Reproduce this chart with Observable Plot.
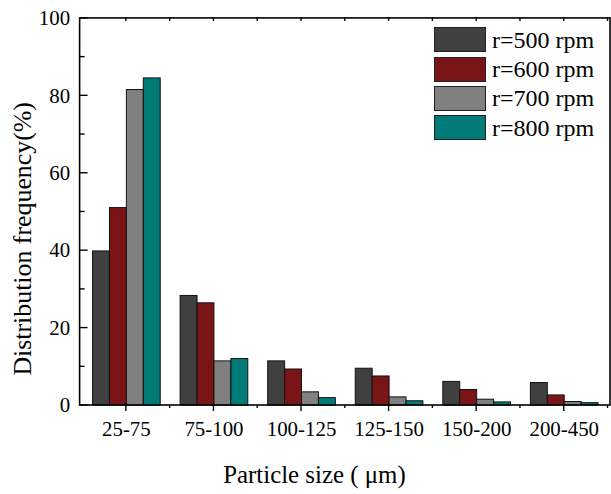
<!DOCTYPE html>
<html><head><meta charset="utf-8">
<script src="https://cdn.jsdelivr.net/npm/d3@7"></script>
<script src="https://cdn.jsdelivr.net/npm/@observablehq/plot@0.6"></script>
<style>
body{margin:0;background:#fff;overflow:hidden}
#wrap{position:relative;width:611px;height:494px;overflow:hidden;font-family:"Liberation Serif","Times New Roman",Times,serif;background:#fff}
#legend{position:absolute;left:434px;top:25px}
.row{display:flex;align-items:center;height:29.4px}
.sw{width:50px;height:23px;border:1px solid #222;box-sizing:content-box}
.lab{font-size:24px;margin-left:6px;line-height:1;color:#000}
#chart{position:absolute;left:0;top:0}
svg text{font-family:"Liberation Serif","Times New Roman",Times,serif}
</style></head><body><div id="wrap"><div id="chart"></div><div id="legend"></div></div>
<script>
const categories = ["25-75","75-100","100-125","125-150","150-200","200-450"];
const seriesNames = ["r=500 rpm","r=600 rpm","r=700 rpm","r=800 rpm"];
const colors = ["#404040","#7a1517","#808080","#007b77"];
const r500 = [39.8,28.3,11.4,9.5,6.1,5.8];
const r600 = [51.0,26.4,9.3,7.5,4.0,2.6];
const r700 = [81.5,11.4,3.4,2.1,1.5,0.9];
const r800 = [84.5,12.0,1.9,1.1,0.8,0.6];
const yTicks = [0,20,40,60,80,100];
const yMinor = [10,30,50,70,90];
const xTitle = "Particle size ( \u03bcm)";
const yTitle = "Distribution frequency(%)";

const seriesValues = [r500, r600, r700, r800];
const data = [];
categories.forEach((c, i) => seriesNames.forEach((s, j) => data.push({category: c, series: s, value: seriesValues[j][i]})));

const W = 614, H = 494;
const chart = Plot.plot({
  width: W, height: H,
  marginLeft: 80, marginRight: 1, marginTop: 18, marginBottom: 87,
  style: {fontFamily: "'Liberation Serif', 'Times New Roman', Times, serif", fontSize: "21px", color: "#000", background: "#fff", overflow: "visible"},
  fx: {domain: categories, paddingInner: 0.19, paddingOuter: 0.095, label: null},
  x: {domain: seriesNames, padding: 0, axis: null},
  y: {domain: [0, 100], axis: null},
  color: {domain: seriesNames, range: colors},
  marks: [
    Plot.barY(data, {fx: "category", x: "series", y: "value", fill: "series", stroke: "#111", strokeWidth: 1}),
    Plot.axisFx({anchor: "bottom", tickSize: 0, tickPadding: 16, fontSize: 21, label: null}),
    Plot.axisY({ticks: yTicks, tickSize: 0, tickPadding: 21, fontSize: 21, label: null, tickFormat: d => d})
  ]
});
document.getElementById("chart").appendChild(chart);

const svg = d3.select(chart);
const fx = chart.scale("fx"), y = chart.scale("y");
const x0 = 80, x1 = W - 1, yb = y.apply(0), yt = y.apply(100);
const g = svg.append("g").attr("stroke", "#000").attr("fill", "none");
g.append("rect").attr("x", x0).attr("y", yt).attr("width", x1 - x0).attr("height", yb - yt).attr("stroke-width", 1.6);
yTicks.forEach(v => g.append("line").attr("x1", x0).attr("x2", x0 + 8).attr("y1", y.apply(v)).attr("y2", y.apply(v)).attr("stroke-width", 1.4));
yMinor.forEach(v => g.append("line").attr("x1", x0).attr("x2", x0 + 5).attr("y1", y.apply(v)).attr("y2", y.apply(v)).attr("stroke-width", 1.4));
const bw = fx.bandwidth, step = fx.step;
categories.forEach((c, i) => {
  const cx = fx.apply(c) + bw / 2;
  g.append("line").attr("x1", cx).attr("x2", cx).attr("y1", yb).attr("y2", yb + 6).attr("stroke-width", 1.4);
  g.append("line").attr("x1", cx).attr("x2", cx).attr("y1", yt).attr("y2", yt + 3).attr("stroke-width", 1.4);
  const mx = cx + step / 2;
  g.append("line").attr("x1", mx).attr("x2", mx).attr("y1", yb).attr("y2", yb + 3).attr("stroke-width", 1.4);
  g.append("line").attr("x1", mx).attr("x2", mx).attr("y1", yt).attr("y2", yt + 3).attr("stroke-width", 1.4);
});
svg.append("text").attr("x", 316).attr("y", 485).attr("text-anchor", "middle")
  .attr("font-size", 25).attr("fill", "#000").text(xTitle);
svg.append("text").attr("transform", "translate(31,240) rotate(-90)").attr("text-anchor", "middle")
  .attr("font-size", 26).attr("fill", "#000").text(yTitle);

const legend = d3.select("#legend");
seriesNames.forEach((s, i) => {
  const row = legend.append("div").attr("class", "row");
  row.append("div").attr("class", "sw").style("background", colors[i]);
  row.append("div").attr("class", "lab").text(s);
});
</script>
</body></html>
